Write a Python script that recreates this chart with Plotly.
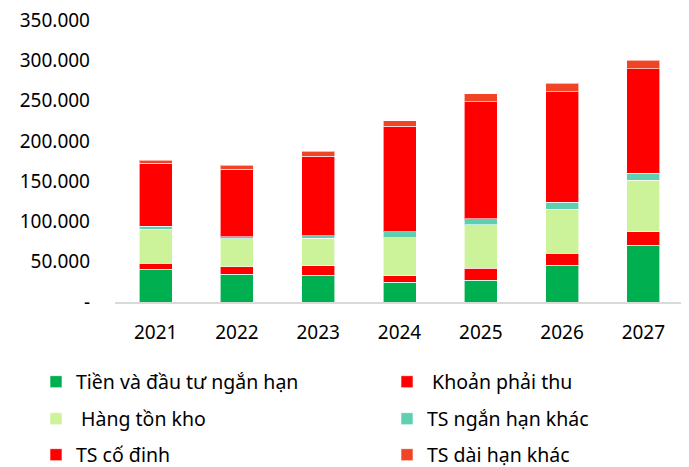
import plotly.graph_objects as go

years = ["2021", "2022", "2023", "2024", "2025", "2026", "2027"]
tien = [40600, 34400, 33500, 24800, 27300, 45900, 70300]
phai_thu = [7400, 9400, 11200, 7900, 14900, 14900, 17000]
ton_kho = [42200, 34800, 34300, 47100, 53400, 54600, 64100]
ngan_han_khac = [3700, 2100, 3300, 7500, 7800, 8700, 8700]
co_dinh = [78200, 84000, 98900, 131100, 145200, 136900, 129400]
dai_han_khac = [4100, 5300, 6200, 6600, 9900, 10400, 10400]

names = ["Tiền và đầu tư ngắn hạn", " Khoản phải thu", " Hàng tồn kho",
         "TS ngắn hạn khác", "TS cố đinh", "TS dài hạn khác"]
colors = ["#00B050", "#FF0000", "#CCF29A", "#5ECFB1", "#FF0000", "#F04424"]
series = [tien, phai_thu, ton_kho, ngan_han_khac, co_dinh, dai_han_khac]

y_tickvals = [0, 50000, 100000, 150000, 200000, 250000, 300000, 350000]
y_ticktext = ["-", "50.000", "100.000", "150.000", "200.000", "250.000", "300.000", "350.000"]

FONT = "Noto Sans"
W, H = 681, 459  # page body has an 8px margin
OFF = 8

# legend slots: (page x of legend box, page y of row centre)
slots = [(36, 382), (387, 382), (36, 419), (387, 419), (36, 455), (387, 455)]

fig = go.Figure()
layout_legends = {}
for i, (n, c, s) in enumerate(zip(names, colors, series)):
    key = "legend" if i == 0 else f"legend{i + 1}"
    fig.add_trace(go.Bar(
        x=years, y=s, name=n, legend=key,
        marker=dict(color=c, line=dict(color="rgba(255,255,255,0.6)", width=1)),
    ))
    px, py = slots[i]
    layout_legends[key] = dict(
        orientation="h", xref="container", yref="container",
        xanchor="left", yanchor="middle",
        x=(px - OFF) / W, y=1 - (py - OFF) / H,
        font=dict(family=FONT, size=19.5, color="#000"),
        bgcolor="rgba(0,0,0,0)", borderwidth=0,
    )

fig.update_layout(
    width=W, height=H,
    margin=dict(l=107, r=5, t=12, b=165),
    paper_bgcolor="white", plot_bgcolor="white",
    barmode="stack", bargap=0.594,
    font=dict(family=FONT, size=19, color="#000"),
    showlegend=True,
    **layout_legends,
)
fig.update_xaxes(showgrid=False, showline=True, linecolor="#D9D9D9", linewidth=2,
                 ticks="", ticklabelstandoff=12, automargin=False,
                 tickfont=dict(family=FONT, size=19))
fig.update_yaxes(range=[0, 350000], showgrid=False, zeroline=False, showline=False,
                 tickvals=y_tickvals, ticktext=y_ticktext, ticks="",
                 ticklabeloverflow="allow", automargin=False,
                 ticklabelstandoff=24, tickfont=dict(family=FONT, size=19))

fig.write_html("out.html")
